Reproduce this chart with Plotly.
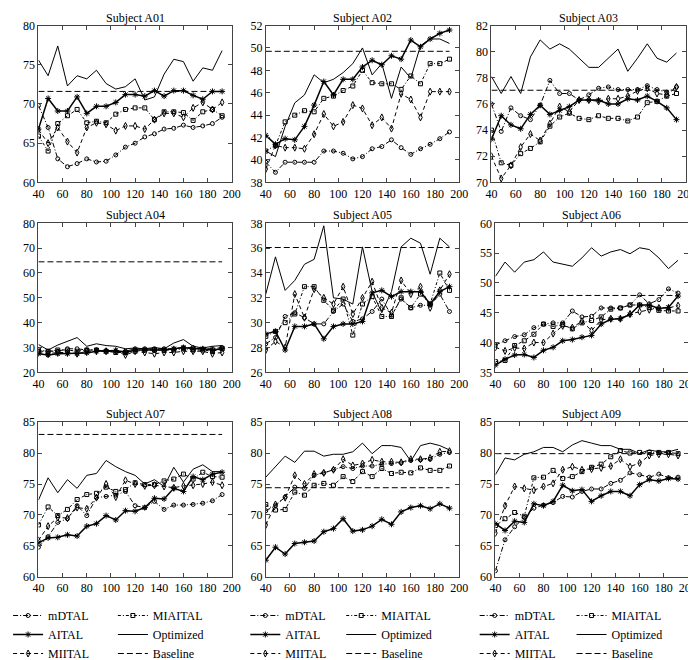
import plotly.graph_objects as go
from plotly.subplots import make_subplots

X = list(range(40, 193, 8))
SUBJECTS = ["A01", "A02", "A03", "A04", "A05", "A06", "A07", "A08", "A09"]

A01 = dict(
    mDTAL=[69.8, 67.0, 63.0, 62.0, 62.4, 63.0, 62.6, 62.7, 63.5, 64.5, 65.0, 65.8, 66.2, 66.8, 66.9, 67.3, 67.0, 67.2, 67.5, 68.3],
    MIAITAL=[65.9, 64.0, 67.5, 68.5, 69.3, 67.6, 67.8, 67.6, 68.7, 69.3, 69.5, 69.5, 68.0, 69.0, 69.0, 68.9, 67.9, 69.0, 69.3, 68.5],
    AITAL=[66.8, 70.7, 69.1, 69.1, 70.9, 68.8, 69.7, 69.7, 70.2, 71.2, 71.2, 71.0, 71.7, 71.0, 71.7, 71.7, 71.1, 70.6, 71.6, 71.6],
    MIITAL=[66.7, 65.0, 67.0, 65.2, 63.8, 67.0, 67.6, 67.4, 66.6, 67.2, 67.2, 66.8, 68.0, 68.8, 68.8, 68.3, 69.5, 70.2, 69.3, 70.2],
    Optimized=[75.6, 73.6, 77.4, 72.3, 73.6, 73.2, 74.3, 72.6, 71.9, 72.2, 73.2, 70.5, 70.9, 73.8, 75.7, 75.4, 72.9, 74.6, 74.3, 76.8],
)
A02 = dict(
    mDTAL=[39.8, 38.9, 39.8, 39.8, 39.8, 39.8, 40.8, 40.8, 40.6, 40.1, 40.3, 41.0, 41.2, 41.8, 41.1, 40.5, 41.0, 41.4, 41.9, 42.5],
    MIAITAL=[40.8, 41.3, 43.4, 44.0, 44.4, 44.3, 45.5, 45.7, 46.2, 46.6, 48.0, 46.9, 46.8, 46.8, 46.3, 47.5, 46.8, 48.6, 48.6, 49.0],
    AITAL=[42.2, 41.4, 41.9, 41.8, 43.0, 44.9, 47.0, 45.8, 47.2, 47.2, 48.3, 48.9, 48.5, 49.3, 49.0, 50.7, 50.1, 50.8, 51.3, 51.6],
    MIITAL=[39.2, 41.3, 41.1, 41.1, 41.0, 42.3, 44.1, 43.0, 43.4, 44.9, 44.6, 43.1, 43.8, 42.8, 45.9, 45.4, 43.8, 46.1, 46.1, 46.1],
    Optimized=[40.8, 40.3, 43.0, 45.1, 45.8, 47.6, 46.9, 47.2, 47.8, 48.6, 50.0, 47.6, 48.6, 45.5, 48.3, 47.3, 50.2, 50.8, 50.8, 50.4],
)
A03 = dict(
    mDTAL=[76.0, 73.9, 75.7, 75.1, 74.8, 75.9, 77.8, 76.8, 76.8, 76.3, 76.7, 77.2, 77.3, 77.1, 77.1, 77.1, 77.4, 77.1, 76.9, 77.3],
    MIAITAL=[74.0, 71.5, 71.3, 72.2, 72.6, 73.1, 74.3, 75.0, 75.3, 74.9, 74.8, 75.1, 74.9, 74.9, 74.7, 75.0, 76.1, 76.2, 76.6, 76.8],
    AITAL=[73.3, 75.1, 74.4, 74.1, 75.2, 75.9, 75.2, 75.5, 75.8, 76.3, 76.3, 76.3, 76.0, 76.0, 76.4, 76.3, 76.6, 76.2, 75.7, 74.8],
    MIITAL=[72.0, 70.3, 71.3, 72.7, 73.7, 73.2, 74.5, 75.8, 75.4, 76.3, 76.3, 76.2, 76.4, 76.4, 76.6, 77.0, 77.2, 76.8, 76.7, 77.3],
    Optimized=[78.1, 76.8, 78.1, 76.8, 79.6, 80.9, 80.2, 80.6, 80.2, 79.5, 78.8, 78.8, 79.5, 80.2, 78.5, 79.5, 80.6, 79.5, 79.2, 79.9],
)
A04 = dict(
    mDTAL=[28.5, 28.5, 28.5, 29.5, 29.5, 29.0, 29.0, 28.5, 28.5, 28.5, 29.5, 29.5, 29.5, 29.5, 29.5, 30.0, 30.0, 29.5, 29.5, 30.0],
    MIAITAL=[29.0, 28.5, 29.0, 29.0, 28.5, 29.0, 29.0, 28.5, 28.0, 28.0, 28.5, 29.0, 29.0, 29.0, 29.0, 29.5, 29.0, 29.0, 28.5, 29.5],
    AITAL=[27.5, 27.0, 27.5, 27.5, 27.5, 27.8, 28.5, 28.5, 28.8, 28.0, 29.0, 29.0, 29.0, 29.0, 29.5, 30.0, 29.5, 29.5, 29.0, 29.5],
    MIITAL=[28.0, 27.5, 28.0, 28.0, 27.5, 28.5, 28.5, 28.5, 28.5, 27.0, 28.5, 28.0, 27.5, 28.0, 28.0, 28.5, 28.5, 28.5, 27.5, 28.0],
    Optimized=[31.2, 29.0, 31.0, 32.5, 34.0, 30.5, 31.5, 30.8, 30.5, 29.5, 29.8, 29.5, 30.0, 29.5, 31.8, 33.2, 30.5, 29.8, 30.5, 30.8],
)
A05 = dict(
    mDTAL=[28.3, 28.8, 30.5, 30.8, 30.4, 29.9, 29.9, 30.9, 31.5, 30.1, 30.3, 30.9, 31.9, 30.6, 31.9, 31.2, 31.4, 31.4, 32.3, 30.9],
    MIAITAL=[28.9, 29.3, 30.0, 30.7, 32.9, 32.9, 31.8, 31.0, 31.9, 29.0, 31.5, 32.1, 30.5, 30.5, 32.0, 31.2, 32.3, 31.5, 34.0, 32.6],
    AITAL=[29.1, 29.3, 27.8, 29.7, 29.7, 29.9, 28.7, 29.7, 29.9, 29.9, 30.1, 32.4, 32.6, 32.1, 32.5, 32.5, 32.5, 31.5, 32.5, 32.9],
    MIITAL=[27.8, 28.5, 28.0, 32.3, 30.4, 32.7, 32.0, 31.5, 32.9, 30.7, 32.0, 33.3, 31.2, 30.8, 33.4, 32.3, 32.9, 31.2, 32.6, 33.9],
    Optimized=[32.3, 35.3, 32.6, 33.4, 34.7, 35.1, 37.8, 32.0, 31.9, 31.5, 36.1, 32.5, 30.8, 32.5, 36.1, 36.8, 36.4, 33.9, 36.8, 36.1],
)
A06 = dict(
    mDTAL=[39.6, 40.3, 41.0, 41.3, 42.5, 43.1, 43.3, 43.3, 45.3, 44.3, 44.4, 45.8, 45.8, 45.8, 46.3, 48.0, 46.5, 47.2, 49.0, 48.3],
    MIAITAL=[36.8, 37.0, 39.5, 40.3, 41.4, 43.1, 42.7, 43.0, 42.3, 43.3, 43.7, 44.3, 45.6, 45.8, 46.3, 46.3, 45.9, 45.4, 45.3, 45.3],
    AITAL=[36.2, 37.2, 37.9, 38.0, 37.5, 38.7, 39.2, 40.3, 40.5, 40.9, 41.2, 43.1, 43.9, 44.0, 44.7, 46.3, 46.3, 45.7, 45.9, 47.8],
    MIITAL=[39.2, 38.6, 39.1, 39.0, 40.0, 40.0, 41.5, 42.8, 42.5, 43.6, 42.0, 43.8, 44.0, 44.0, 44.8, 45.2, 45.5, 45.8, 45.8, 46.2],
    Optimized=[51.1, 53.5, 51.8, 53.5, 53.9, 55.2, 53.5, 53.2, 52.8, 54.2, 55.9, 54.5, 55.2, 55.6, 54.9, 55.9, 55.6, 54.2, 52.4, 53.8],
)
A07 = dict(
    mDTAL=[64.8, 66.5, 68.8, 69.4, 71.5, 69.9, 72.8, 73.0, 73.2, 73.8, 71.5, 71.2, 72.2, 70.9, 71.6, 71.6, 71.7, 71.9, 72.3, 73.3],
    MIAITAL=[68.4, 71.3, 69.9, 70.9, 72.5, 73.3, 73.5, 74.5, 73.8, 74.1, 75.2, 74.9, 74.9, 75.5, 75.8, 76.6, 75.8, 76.9, 76.2, 76.1],
    AITAL=[65.5, 66.3, 66.4, 66.8, 66.6, 68.2, 68.6, 69.9, 69.2, 70.7, 70.6, 71.2, 72.7, 72.6, 74.3, 73.8, 76.2, 75.7, 76.6, 76.9],
    MIITAL=[65.9, 68.2, 69.6, 69.5, 71.2, 71.0, 72.8, 75.0, 72.9, 75.6, 75.0, 74.7, 74.8, 74.6, 74.4, 74.7, 74.8, 75.0, 75.3, 74.8],
    Optimized=[72.4, 76.0, 73.6, 75.7, 74.3, 76.4, 76.7, 78.8, 77.8, 77.0, 76.4, 75.0, 75.7, 74.6, 77.7, 75.3, 77.4, 78.1, 77.0, 77.0],
)
A08 = dict(
    mDTAL=[70.7, 71.5, 72.9, 74.5, 74.3, 76.4, 76.8, 77.3, 77.8, 77.5, 77.9, 77.9, 78.2, 78.3, 78.4, 78.8, 78.9, 79.0, 79.8, 80.1],
    MIAITAL=[71.7, 70.8, 70.9, 73.7, 73.2, 74.8, 75.1, 74.8, 76.2, 75.4, 77.0, 76.2, 77.5, 76.7, 76.9, 76.8, 77.6, 77.2, 77.2, 77.9],
    AITAL=[62.7, 64.8, 63.7, 65.4, 65.6, 65.8, 67.3, 67.8, 69.4, 67.4, 67.6, 68.2, 69.3, 68.5, 70.5, 71.2, 71.5, 71.0, 71.8, 71.1],
    MIITAL=[68.4, 71.7, 72.8, 76.4, 75.0, 76.6, 76.8, 77.3, 79.0, 78.0, 78.3, 78.9, 78.6, 78.6, 78.5, 79.0, 79.0, 79.2, 80.2, 80.3],
    Optimized=[76.1, 77.8, 79.5, 78.5, 80.3, 80.3, 79.5, 79.8, 79.8, 80.2, 81.6, 79.9, 81.2, 81.2, 80.9, 78.7, 81.2, 81.6, 81.2, 80.5],
)
A09 = dict(
    mDTAL=[61.0, 66.0, 68.1, 69.6, 71.1, 71.6, 72.0, 73.0, 72.9, 73.8, 74.2, 74.2, 75.1, 75.6, 76.8, 76.5, 76.1, 76.6, 76.0, 76.1],
    MIAITAL=[68.3, 69.4, 70.4, 69.8, 76.0, 76.1, 77.2, 75.9, 76.2, 77.0, 77.7, 78.2, 79.4, 80.4, 80.0, 80.1, 80.1, 80.1, 80.1, 79.9],
    AITAL=[68.6, 67.5, 69.0, 68.8, 71.8, 71.5, 72.2, 74.8, 73.9, 74.1, 72.2, 73.1, 73.8, 73.8, 73.1, 74.9, 75.7, 75.5, 75.9, 75.8],
    MIITAL=[67.1, 71.5, 74.6, 74.3, 74.0, 74.6, 75.1, 77.3, 77.8, 77.3, 77.4, 77.6, 77.9, 79.0, 77.8, 78.4, 79.6, 79.8, 79.8, 79.6],
    Optimized=[76.5, 79.2, 78.9, 79.8, 80.2, 80.9, 80.9, 80.2, 81.3, 82.0, 81.6, 81.2, 81.2, 80.6, 80.6, 79.9, 80.5, 80.2, 80.2, 80.6],
)
DATA = [A01, A02, A03, A04, A05, A06, A07, A08, A09]
BASELINE = [71.6, 49.7, 77.05, 64.5, 36.05, 47.9, 83.0, 74.4, 79.9]
Y_RANGES = [[60, 80], [38, 52], [70, 82], [20, 80], [26, 38], [35, 60], [60, 85], [60, 85], [60, 85]]
Y_DTICK = [5, 2, 2, 10, 2, 5, 5, 5, 5]

# legend layout: left column / right column per subplot column
LEFT = ["mDTAL", "AITAL", "MIITAL"]
RIGHT = ["MIAITAL", "Optimized", "Baseline"]

STYLE = {
    "mDTAL": dict(dash="5px,2px,1px,2px", width=1, symbol="circle-open", size=4),
    "MIAITAL": dict(dash="3px,2px,1px,2px", width=1, symbol="square-open", size=4),
    "AITAL": dict(dash="solid", width=1.5, symbol="asterisk-open", size=5),
    "MIITAL": dict(dash="4px,3px", width=1, symbol="diamond-tall-open", size=5),
    "Optimized": dict(dash="solid", width=1, symbol=None, size=0),
    "Baseline": dict(dash="6px,3px", width=1, symbol=None, size=0),
}

W, H = 696, 660
ROW_PX = [(18, 179), (221, 374), (425, 584)]
COL_PX = [[(22.7, 218.3), (252.7, 448.3), (481, 678)],
          [(22.7, 218.3), (252.7, 448.3), (485, 679.5)],
          [(22.7, 218.3), (252.7, 448.3), (485, 679.5)]]

FONT = "Liberation Serif, Times New Roman, serif"

fig = make_subplots(rows=3, cols=3)

def legend_name(idx):
    return "legend" if idx == 1 else f"legend{idx}"

for i, subj in enumerate(SUBJECTS):
    r, c = i // 3, i % 3
    d = DATA[i]
    show = (r == 0)
    for name in LEFT + RIGHT:
        st = STYLE[name]
        if name == "Baseline":
            yv = [BASELINE[i]] * len(X)
        else:
            yv = d[name]
        lidx = 2 * c + 1 if name in LEFT else 2 * c + 2
        mode = "lines+markers" if st["symbol"] else "lines"
        kw = dict(x=X, y=yv, name=name, mode=mode,
                  line=dict(color="black", width=st["width"], dash=st["dash"]),
                  showlegend=show, legend=legend_name(lidx))
        if st["symbol"]:
            kw["marker"] = dict(symbol=st["symbol"], size=st["size"], color="black",
                                line=dict(color="black", width=1))
        fig.add_trace(go.Scatter(**kw), row=r + 1, col=c + 1)

    n = i + 1
    xa = "xaxis" if n == 1 else f"xaxis{n}"
    ya = "yaxis" if n == 1 else f"yaxis{n}"
    x0, x1 = COL_PX[r][c]
    y0, y1 = ROW_PX[r]
    fig.layout[xa].update(domain=[x0 / W, x1 / W], range=[40, 200], dtick=20, tick0=40)
    fig.layout[ya].update(domain=[1 - y1 / H, 1 - y0 / H], range=Y_RANGES[i], dtick=Y_DTICK[i],
                          tick0=Y_RANGES[i][0])
    fig.add_annotation(text=f"Subject {subj}", xref=f"x{'' if n == 1 else n} domain",
                       yref=f"y{'' if n == 1 else n} domain", x=0.5, y=1, yanchor="bottom",
                       showarrow=False, yshift=-1, font=dict(family=FONT, size=12, color="black"))

axis_common = dict(showgrid=False, zeroline=False, showline=True, linecolor="#444", linewidth=1,
                   mirror="ticks", ticks="inside", ticklen=4, tickcolor="#444",
                   ticklabeloverflow="allow",
                   tickfont=dict(family=FONT, size=12, color="black"), automargin=False)
fig.update_xaxes(**axis_common)
fig.update_yaxes(**axis_common)

# legends
LEG_X_PX = [(-8, 98), (232, 329), (464, 562)]
legends = {}
for c in range(3):
    for k in range(2):
        idx = 2 * c + 1 + k
        legends[legend_name(idx)] = dict(
            x=LEG_X_PX[c][k] / W, y=1 - 609 / H, xanchor="left", yanchor="top",
            orientation="v", bgcolor="rgba(0,0,0,0)", borderwidth=0, itemwidth=30,
            tracegroupgap=0, font=dict(family=FONT, size=12, color="black"))
fig.update_layout(**legends)

fig.update_layout(width=W, height=H, margin=dict(l=0, r=0, t=0, b=0),
                  plot_bgcolor="white", paper_bgcolor="white",
                  font=dict(family=FONT, size=12, color="black"))

fig.write_html("out.html")
